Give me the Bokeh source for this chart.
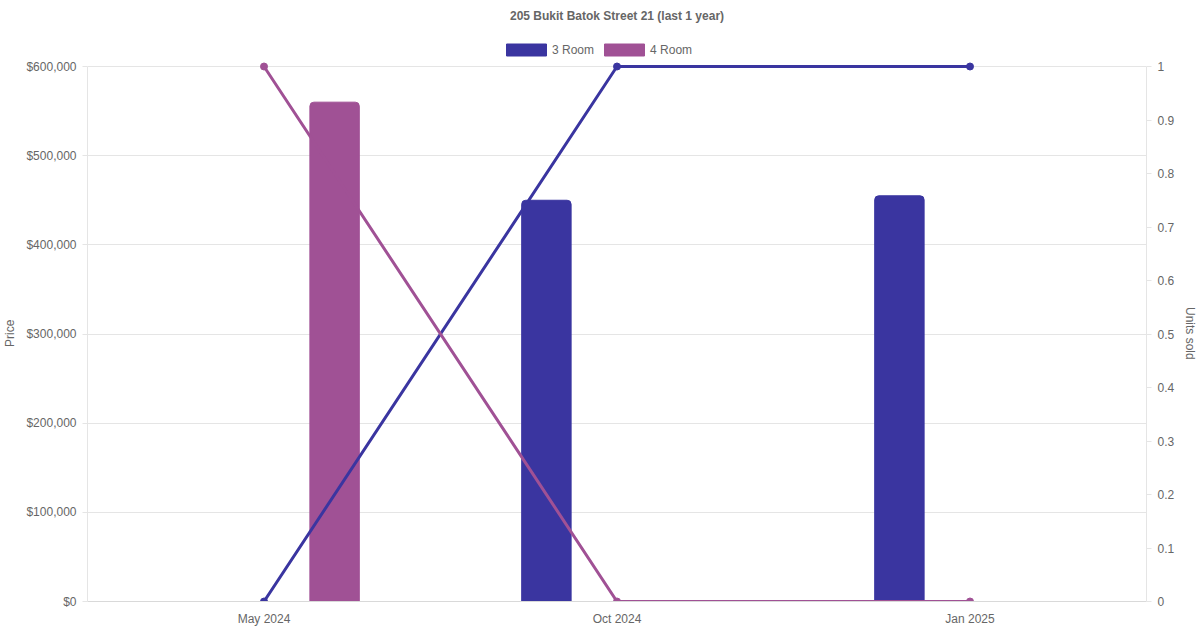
from bokeh.plotting import figure
from bokeh.models import (ColumnDataSource, FactorRange, Range1d, LinearAxis,
                          NumeralTickFormatter, CustomJSTickFormatter,
                          FixedTicker, Legend, LegendItem)
from bokeh.transform import dodge
from bokeh.embed import file_html
from bokeh.resources import INLINE

# data
months = ["May 2024", "Oct 2024", "Jan 2025"]
price_3room = [None, 450000, 455000]
price_4room = [560000, None, None]
units_3room = [0, 1, 1]
units_4room = [1, 0, 0]
price_ticks = [0, 100000, 200000, 300000, 400000, 500000, 600000]
unit_ticks = [0, 0.1, 0.2, 0.3, 0.4, 0.5, 0.6, 0.7, 0.8, 0.9, 1]

C3 = "#3a35a0"
C4 = "#a05195"
GREY = "#666666"
GRID = "#e5e5e5"
FONT = "Liberation Sans"

# the frame is taller than the drawn chart so the legend can sit above it
FRAME_H = 573
CHART_H = 535
stretch = FRAME_H / CHART_H
# axis titles are centred on the whole frame; pad them with no-break spaces
# so the visible words sit at the middle of the drawn chart
PAD = "\u00a0" * 11


def bar_source(prices):
    # only months that have a price get a bar
    xs = [m for m, v in zip(months, prices) if v is not None]
    ys = [v for v in prices if v is not None]
    return ColumnDataSource(dict(month=xs, price=ys))


src3 = bar_source(price_3room)
src4 = bar_source(price_4room)
lines = ColumnDataSource(dict(month=months, u3=units_3room, u4=units_4room))

p = figure(x_range=FactorRange(factors=months, range_padding=0, factor_padding=0),
           y_range=Range1d(0, price_ticks[-1] * stretch),
           frame_width=1059, frame_height=FRAME_H,
           output_backend="svg", toolbar_location=None,
           min_border_left=80, min_border_right=45, min_border_top=0,
           min_border_bottom=27)
p.extra_y_ranges = {"units": Range1d(0, unit_ticks[-1] * stretch)}

p.title.text = "205 Bukit Batok Street 21 (last 1 year)"
p.title.align = "center"
p.title.text_font = FONT
p.title.text_font_size = "12px"
p.title.text_font_style = "bold"
p.title.text_color = GREY
p.title.standoff = 12

# bars
r3 = p.vbar(x=dodge("month", -0.2, range=p.x_range), top="price", width=0.14,
            source=src3, fill_color=C3, line_color=C3, border_radius=(4, 4, 0, 0))
r4 = p.vbar(x=dodge("month", 0.2, range=p.x_range), top="price", width=0.14,
            source=src4, fill_color=C4, line_color=C4, border_radius=(4, 4, 0, 0))

# units sold lines
p.line("month", "u3", source=lines, y_range_name="units", line_width=3, color=C3)
p.scatter("month", "u3", source=lines, y_range_name="units", size=7, color=C3)
p.line("month", "u4", source=lines, y_range_name="units", line_width=3, color=C4)
p.scatter("month", "u4", source=lines, y_range_name="units", size=7, color=C4)

# axes
yax = p.yaxis[0]
yax.ticker = FixedTicker(ticks=price_ticks)
yax.formatter = NumeralTickFormatter(format="$0,0")
yax.axis_label = "Price" + PAD
yax.bounds = (price_ticks[0], price_ticks[-1])

rax = LinearAxis(y_range_name="units", ticker=FixedTicker(ticks=unit_ticks),
                 formatter=CustomJSTickFormatter(code="return String(Number(tick.toFixed(1)));"),
                 axis_label=PAD + "Units sold",
                 bounds=(unit_ticks[0], unit_ticks[-1]))
p.add_layout(rax, "right")

for ax in [yax, rax]:
    ax.axis_line_color = GRID
    ax.major_tick_line_color = GRID
    ax.major_tick_in = 0
    ax.major_tick_out = 5
    ax.minor_tick_line_color = None
    ax.major_label_standoff = 6
    ax.axis_label_standoff = 6

for ax in [yax, rax, p.xaxis[0]]:
    ax.major_label_text_font = FONT
    ax.major_label_text_font_size = "12px"
    ax.major_label_text_color = GREY
    ax.axis_label_text_font = FONT
    ax.axis_label_text_font_size = "12px"
    ax.axis_label_text_font_style = "normal"
    ax.axis_label_text_color = GREY

xax = p.xaxis[0]
xax.axis_line_color = "#d9d9d9"
xax.major_tick_line_color = None
xax.minor_tick_line_color = None
xax.major_label_standoff = 4

p.xgrid.visible = False
p.ygrid.grid_line_color = GRID
p.outline_line_color = None

# legend swatches are drawn 10% inset, so the glyph box is a little larger
legend = Legend(items=[LegendItem(label="3 Room", renderers=[r3]),
                       LegendItem(label="4 Room", renderers=[r4])],
                orientation="horizontal", location=(414, 544),
                glyph_width=50, glyph_height=15, label_standoff=1, spacing=5,
                padding=5, margin=0, border_line_color=None,
                background_fill_alpha=0,
                label_text_font=FONT, label_text_font_size="12px",
                label_text_color=GREY)
p.add_layout(legend)

open("out.html", "w").write(file_html(p, INLINE))
